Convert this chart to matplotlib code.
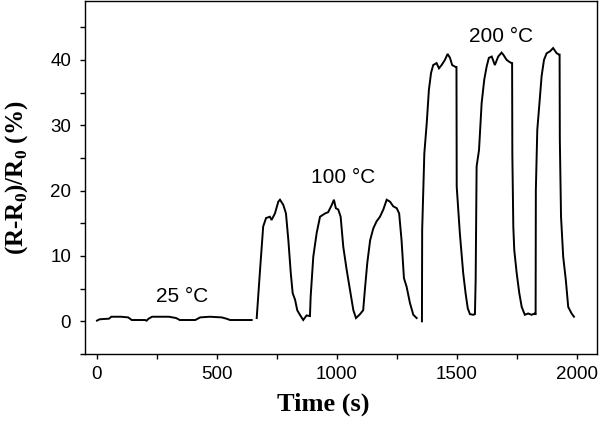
import matplotlib
matplotlib.use("Agg")
import matplotlib.pyplot as plt
from matplotlib.ticker import MultipleLocator

# ---- data ----
t_25 = [0, 10, 25, 50, 60, 100, 130, 145, 200, 207, 215, 230, 300, 330, 345,
        400, 410, 430, 470, 520, 540, 555, 600, 645]
r_25 = [0.1, 0.3, 0.35, 0.4, 0.7, 0.7, 0.6, 0.2, 0.2, 0.1, 0.4, 0.7, 0.7, 0.5, 0.2,
        0.2, 0.2, 0.6, 0.7, 0.6, 0.4, 0.2, 0.2, 0.2]

t_100 = [666, 680, 693, 705, 721, 728, 742, 756, 763, 777, 788, 798, 808, 816, 826,
         835, 846, 860, 874, 888, 891, 902, 916, 930, 951, 964, 979, 988, 996, 1006,
         1016, 1027, 1041, 1055, 1069, 1080, 1097, 1110, 1117, 1127, 1139, 1152, 1166,
         1180, 1194, 1208, 1222, 1235, 1250, 1260, 1270, 1280, 1291, 1305, 1319, 1333]
r_100 = [0.5, 7.9, 14.5, 15.8, 16.0, 15.5, 16.5, 18.3, 18.6, 17.8, 16.5, 12.4, 7.4, 4.3, 3.3,
         1.7, 1.0, 0.2, 0.9, 0.8, 3.8, 9.9, 13.5, 16.0, 16.5, 16.7, 17.8, 18.6, 17.3, 17.1,
         16.0, 11.4, 7.9, 4.8, 1.7, 0.5, 1.1, 1.7, 4.8, 8.9, 12.4, 14.2, 15.3,
         16.0, 17.1, 18.6, 18.3, 17.6, 17.3, 16.5, 12.4, 6.6, 5.3, 2.8, 1.0, 0.5]

t_200 = [1355, 1356, 1365, 1375, 1384, 1393, 1402, 1416, 1426, 1437, 1451, 1462, 1472,
         1481, 1496, 1499, 1500, 1513, 1527, 1537, 1546, 1555, 1569, 1576, 1579, 1583,
         1593, 1604, 1615, 1625, 1634, 1646, 1659, 1673, 1687, 1694, 1708, 1719, 1729,
         1731, 1732, 1736, 1740, 1750, 1761, 1771, 1784, 1798, 1812, 1826, 1829, 1830,
         1836, 1844, 1854, 1864, 1875, 1889, 1902, 1917, 1927, 1929, 1930, 1935, 1944,
         1955, 1965, 1979, 1989]
r_200 = [0.0, 14.0, 25.7, 30.3, 35.4, 38.0, 39.2, 39.5, 38.7, 39.2, 40.0, 40.9, 40.3,
         39.2, 38.9, 38.9, 20.6, 13.5, 7.4, 4.3, 2.0, 1.1, 1.0, 1.1, 6.3, 23.7,
         26.2, 33.4, 37.0, 39.0, 40.3, 40.5, 39.2, 40.5, 41.1, 40.8, 40.0, 39.7, 39.5,
         39.5, 25.5, 14.5, 10.9, 7.4, 4.3, 2.2, 1.0, 1.2, 1.0, 1.2, 1.0, 20.1,
         29.3, 32.9, 37.5, 40.0, 41.0, 41.3, 41.8, 41.0, 40.8, 40.8, 27.8, 16.0, 9.9,
         6.3, 2.2, 1.2, 0.7]

labels = ["25 \u00b0C", "100 \u00b0C", "200 \u00b0C"]
label_x = [353, 1027, 1684]
label_y = [2.9, 21.1, 42.7]

# ---- figure ----
fig = plt.figure(figsize=(6.0, 4.24), dpi=100)
ax = fig.add_axes([85 / 600, 1 - 354 / 424, 512 / 600, 353 / 424])

for t, r in ((t_25, r_25), (t_100, r_100), (t_200, r_200)):
    ax.plot(t, r, color="black", lw=1.4, solid_joinstyle="miter")

ax.set_xlim(-50, 2085)
ax.set_ylim(-5, 49)
ax.xaxis.set_major_locator(MultipleLocator(500))
ax.xaxis.set_minor_locator(MultipleLocator(250))
ax.yaxis.set_major_locator(MultipleLocator(10))
ax.yaxis.set_minor_locator(MultipleLocator(5))
ax.set_yticks([0, 10, 20, 30, 40])

for s in ax.spines.values():
    s.set_linewidth(1.0)

tick_font = ["Liberation Sans", "DejaVu Sans"]
ax.tick_params(axis="both", which="both", direction="out", length=3.5, width=1.0,
               top=False, right=False)
ax.tick_params(axis="x", which="major", pad=5)
ax.tick_params(axis="y", which="major", pad=6.5)
for lab in ax.get_xticklabels() + ax.get_yticklabels():
    lab.set_fontfamily(tick_font)
    lab.set_fontsize(13.5)

for txt, x, y in zip(labels, label_x, label_y):
    ax.text(x, y, txt, ha="center", va="baseline", fontsize=15,
            family=["Liberation Sans", "DejaVu Sans"])

ax.set_xlabel("Time (s)", family="Liberation Serif", fontweight="bold", fontsize=19)
ax.xaxis.set_label_coords(0.465, -0.11)
ax.set_ylabel(r"(R-R$_\mathregular{0}$)/R$_\mathregular{0}$ (%)",
              family="Liberation Serif", fontweight="bold", fontsize=18)
ax.yaxis.set_label_coords(-0.108, 0.5)

fig.savefig("out.png", dpi=100)
